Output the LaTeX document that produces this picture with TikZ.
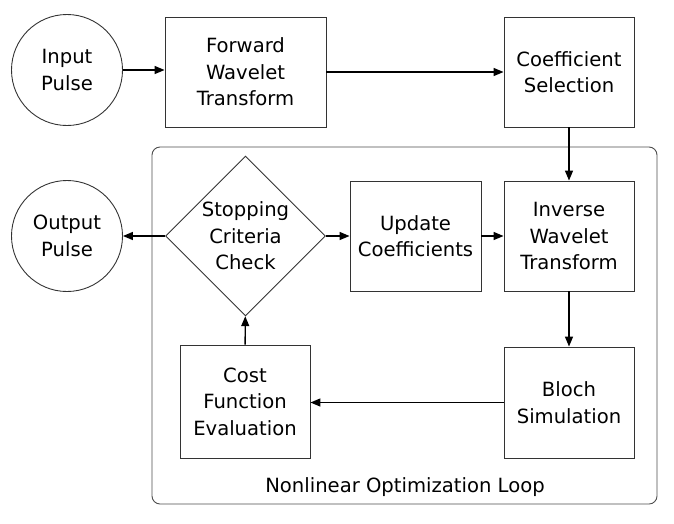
\documentclass[tikz,border=0pt]{standalone}
\usepackage{fontspec}
\setmainfont{DejaVu Sans}
\usetikzlibrary{shapes.geometric,arrows.meta}

\begin{document}
\begin{tikzpicture}[x=1pt,y=-1pt,
        font=\fontsize{19.6}{26.5}\selectfont,
        blk/.style={draw=black!80,line width=0.9pt,align=center,inner sep=0pt},
        pulse/.style={blk,circle,minimum size=111pt},
        stepbox/.style={blk,rectangle,minimum width=130pt,minimum height=110pt},
        flow/.style={line width=1.4pt,-{Triangle[length=10pt,width=8pt]}}]
            \useasboundingbox (0,0) rectangle (674,523);
            % outer loop
            \draw[black!70,line width=0.9pt,rounded corners=8pt] (152,147) rectangle (657,504);
            \node (looplbl) at (405,487) {Nonlinear Optimization Loop};
            % top row
            \node[pulse] (in) at (67,70) {Input\\Pulse};
            \node[stepbox,minimum width=161pt] (fwt) at (245.5,72) {Forward\\Wavelet\\Transform};
            \node[stepbox] (cs) at (569,72) {Coefficient\\Selection};
            % loop
            \node[pulse] (out) at (67,236) {Output\\Pulse};
            \node[blk,diamond,minimum width=160pt,minimum height=160pt] (stop) at (245.5,236) {Stopping\\Criteria\\Check};
            \node[stepbox,minimum width=131pt] (upd) at (415.5,236) {Update\\Coefficients};
            \node[stepbox] (iwt) at (569,236) {Inverse\\Wavelet\\Transform};
            \node[stepbox,minimum height=111pt] (bloch) at (569,402.5) {Bloch\\Simulation};
            \node[stepbox,minimum height=113pt] (cost) at (245,401.5) {Cost\\Function\\Evaluation};
            \draw[flow] (in) -- (in -| fwt.west);
            \draw[flow] (fwt) -- (cs);
            \draw[flow] (cs) -- (iwt);
            \draw[flow] (stop) -- (upd);
            \draw[flow] (upd) -- (iwt);
            \draw[flow] (iwt) -- (bloch);
            \draw[flow] (bloch.west) -- (bloch.west -| cost.east);
            \draw[flow] (cost) -- (stop);
            \draw[flow] (stop) -- (out);
        \end{tikzpicture}
\end{document}
